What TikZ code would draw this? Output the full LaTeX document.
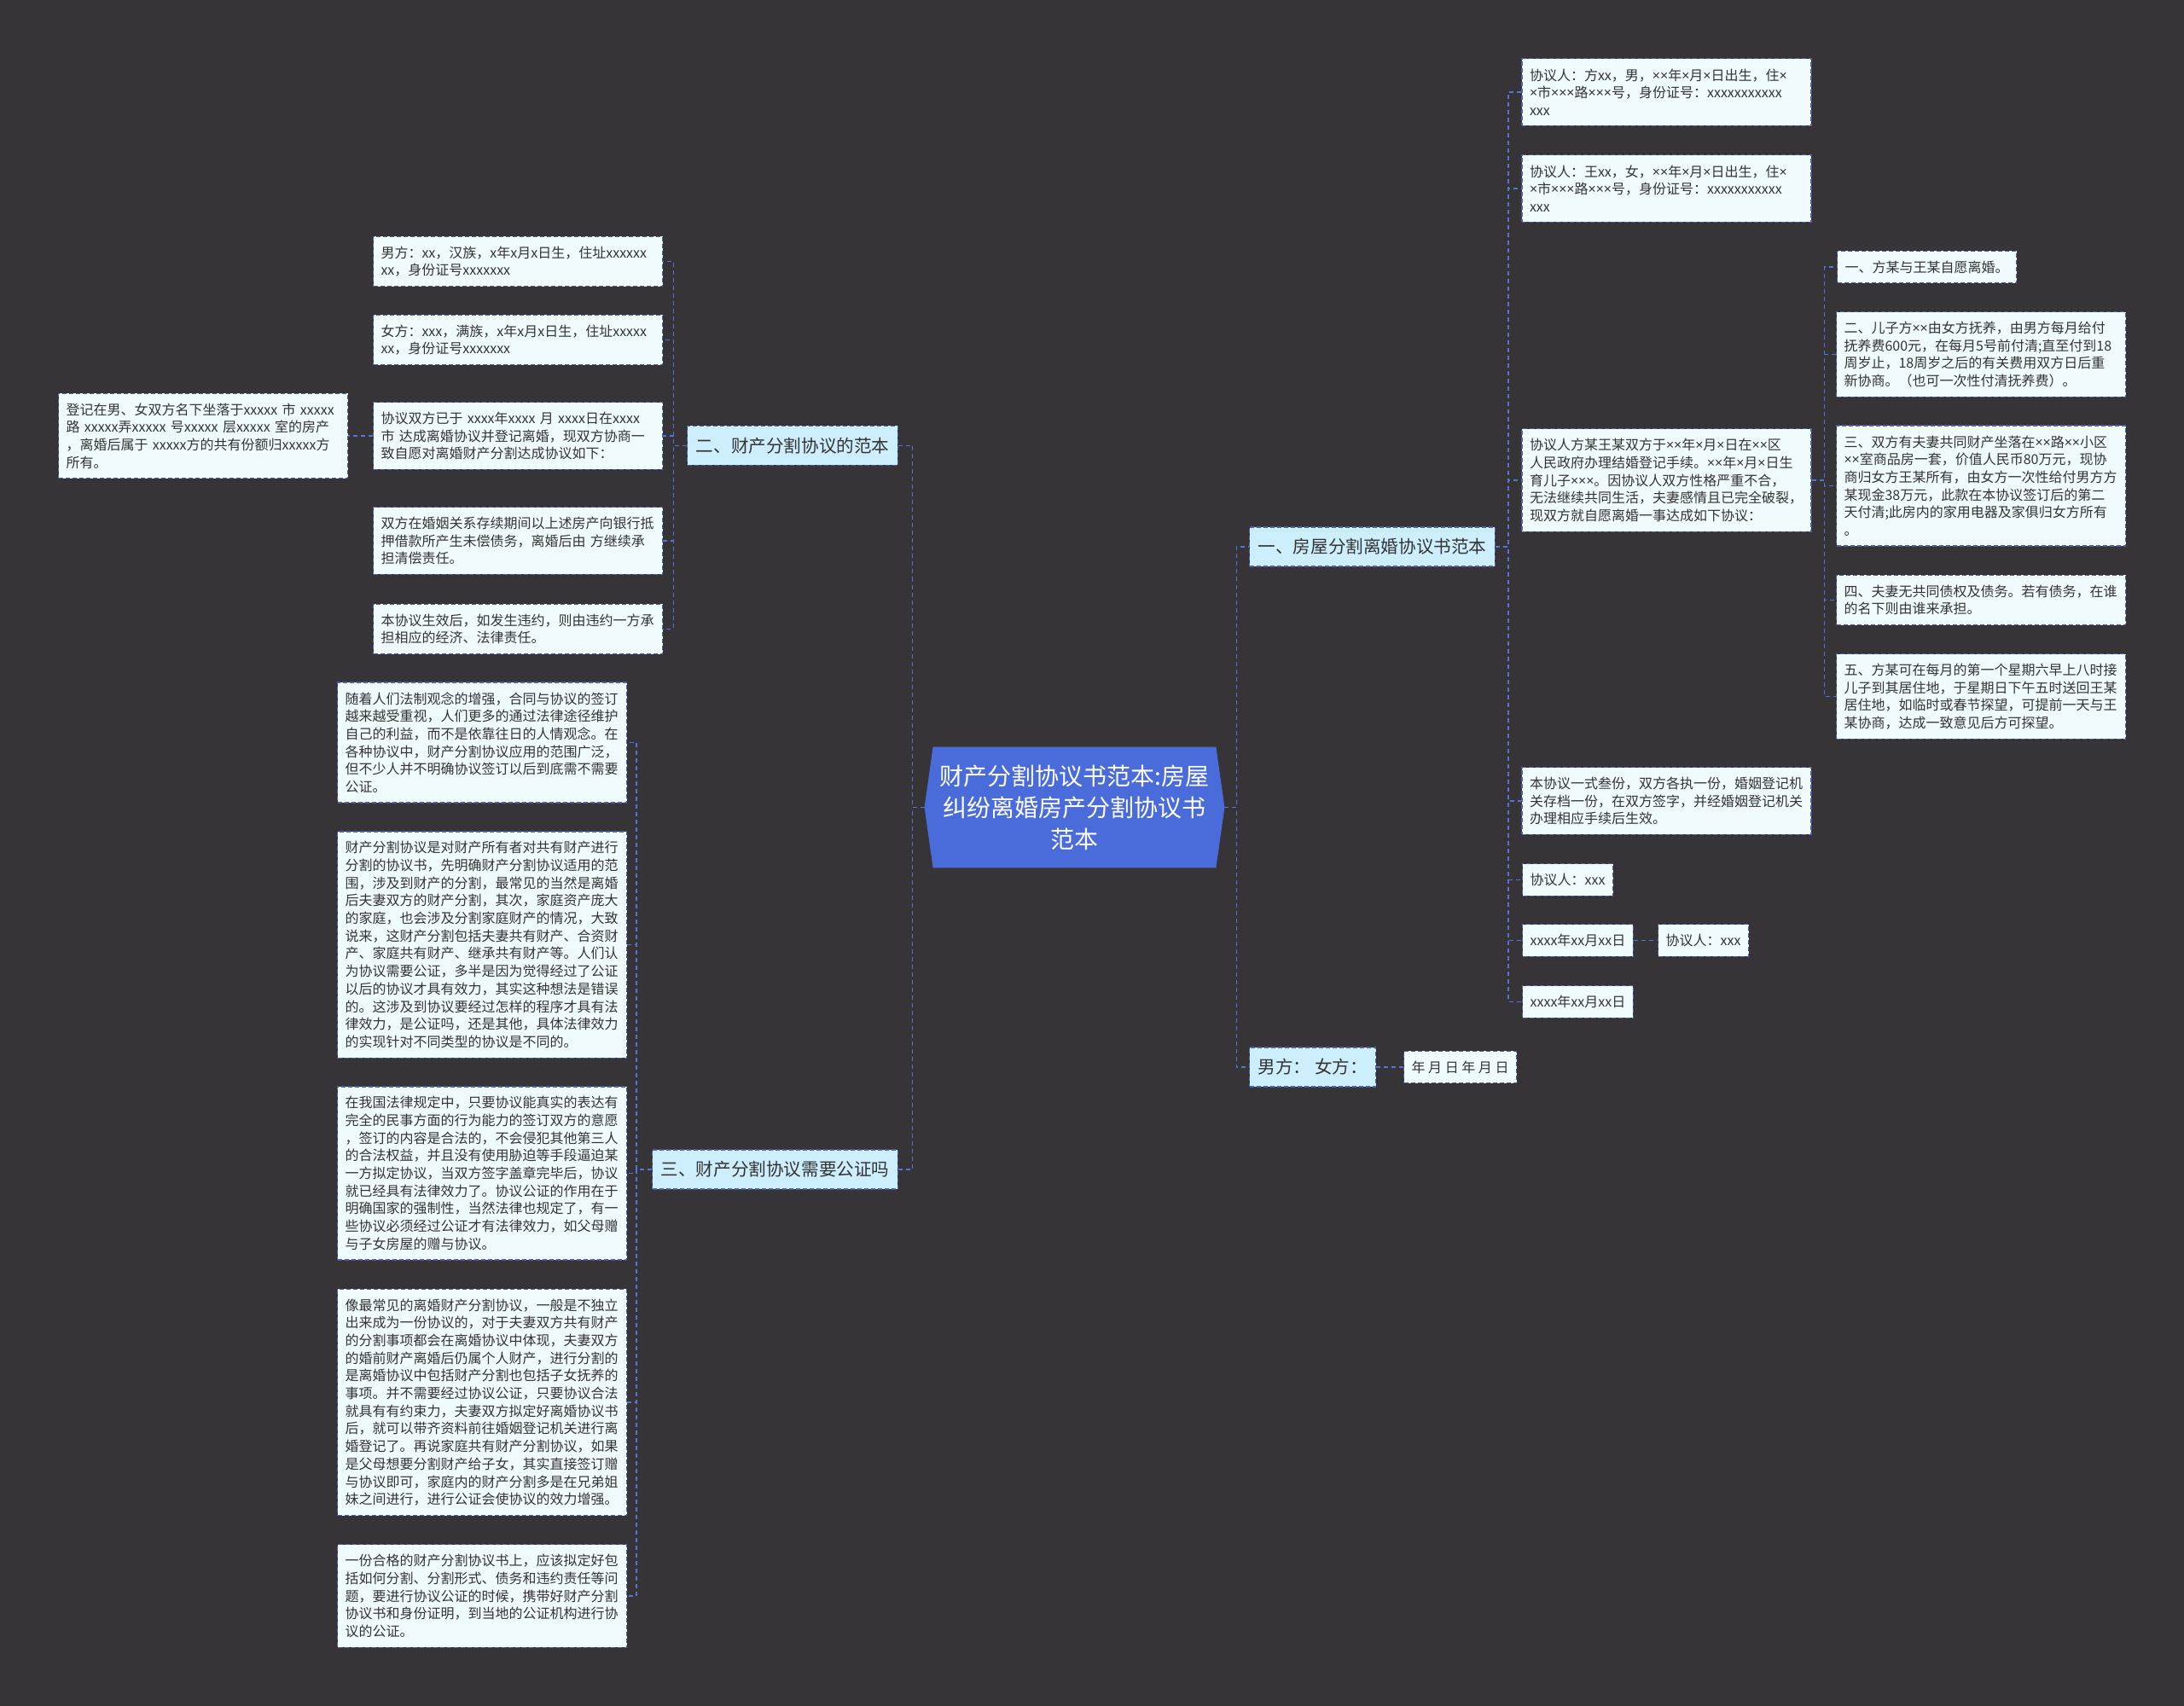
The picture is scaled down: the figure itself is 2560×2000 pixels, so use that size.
\documentclass[tikz,border=0pt]{standalone}
\usepackage{fontspec}
\setmainfont{Noto Sans CJK SC}
\newfontfamily\notosans{Noto Sans}
\newcommand\tms{{\notosans ×}}
\definecolor{bgcol}{HTML}{363436}
\definecolor{rootfill}{HTML}{4A6CDB}
\definecolor{brfill}{HTML}{CDEEFC}
\definecolor{leaffill}{HTML}{F0FBFE}
\definecolor{bordcol}{HTML}{4E5EA8}
\definecolor{conncol}{HTML}{5574D8}
\definecolor{txtcol}{HTML}{333333}
\pgfdeclarelayer{bg}
\pgfsetlayers{bg,main}
\tikzset{
  box/.style={draw=bordcol, line width=0.6pt, dash pattern=on 2.5pt off 1.5pt, text=txtcol, align=left, anchor=center},
  leaf/.style={box, fill=leaffill, font=\fontsize{8pt}{10.35pt}\selectfont, inner xsep=4.5pt, inner ysep=2pt, minimum height=18.75pt},
  wide/.style={text width=160.5pt},
  branch/.style={box, fill=brfill, font=\fontsize{10.3pt}{13pt}\selectfont, inner xsep=5pt, inner ysep=2pt, minimum height=23pt},
  conn/.style={draw=conncol, line width=0.7pt, dash pattern=on 2.5pt off 2pt},
}
\begin{document}
\begin{tikzpicture}[x=0.5pt,y=-0.5pt]
\useasboundingbox (0,0) rectangle (2560,2000);
\begin{pgfonlayer}{bg}
\fill[bgcol] (0,0) rectangle (2560,2000);
\end{pgfonlayer}

% root
\node[text=white, font=\fontsize{14pt}{18.5pt}\selectfont, align=center, minimum width=175.5pt, minimum height=70.5pt, inner sep=0pt] (root) at (1259.5,946.5) {财产分割协议书范本:房屋\\纠纷离婚房产分割协议书\\范本};
\begin{pgfonlayer}{bg}
\fill[rootfill] (root.west) -- ([xshift=5pt]root.north west) -- ([xshift=-5pt]root.north east) -- (root.east) -- ([xshift=-5pt]root.south east) -- ([xshift=5pt]root.south west) -- cycle;
\end{pgfonlayer}

% branches
\node[branch, anchor=west] (b1) at (1464,641) {一、房屋分割离婚协议书范本};
\node[branch, anchor=west] (b4) at (1464,1251) {男方：\ 女方：};
\node[branch, anchor=east] (b2) at (1053,522.5) {二、财产分割协议的范本};
\node[branch, anchor=east] (b3) at (1053,1371) {三、财产分割协议需要公证吗};

% right leaves
\node[leaf, wide, minimum height=39.45pt] (r1) at (1953.5,108) {协议人：方xx，男，\tms{}\tms{}年\tms{}月\tms{}日出生，住\tms{}\\\tms{}市\tms{}\tms{}\tms{}路\tms{}\tms{}\tms{}号，身份证号：xxxxxxxxxxx\\xxx};
\node[leaf, wide, minimum height=39.45pt] (r2) at (1953.5,221) {协议人：王xx，女，\tms{}\tms{}年\tms{}月\tms{}日出生，住\tms{}\\\tms{}市\tms{}\tms{}\tms{}路\tms{}\tms{}\tms{}号，身份证号：xxxxxxxxxxx\\xxx};
\node[leaf, wide, minimum height=60.15pt] (r3) at (1953.5,563) {协议人方某王某双方于\tms{}\tms{}年\tms{}月\tms{}日在\tms{}\tms{}区\\人民政府办理结婚登记手续。\tms{}\tms{}年\tms{}月\tms{}日生\\育儿子\tms{}\tms{}\tms{}。因协议人双方性格严重不合，\\无法继续共同生活，夫妻感情且已完全破裂，\\现双方就自愿离婚一事达成如下协议：};
\node[leaf, wide, minimum height=39.45pt] (r4) at (1953.5,939) {本协议一式叁份，双方各执一份，婚姻登记机\\关存档一份，在双方签字，并经婚姻登记机关\\办理相应手续后生效。};
\node[leaf, anchor=west] (r5) at (1784,1031.5) {协议人：xxx};
\node[leaf, anchor=west] (r6) at (1784,1102.5) {xxxx年xx月xx日};
\node[leaf, anchor=west] (r6b) at (1943,1102.5) {协议人：xxx};
\node[leaf, anchor=west] (r7) at (1784,1174.5) {xxxx年xx月xx日};
\node[leaf, anchor=west] (date) at (1645,1251) {年 月 日 年 月 日};

% second level right
\node[leaf, anchor=west] (s1) at (2153,313) {一、方某与王某自愿离婚。};
\node[leaf, wide, minimum height=49.8pt] (s2) at (2322,415.5) {二、儿子方\tms{}\tms{}由女方抚养，由男方每月给付\\抚养费600元，在每月5号前付清;直至付到18\\周岁止，18周岁之后的有关费用双方日后重\\新协商。（也可一次性付清抚养费）。};
\node[leaf, wide, minimum height=70.5pt] (s3) at (2322,569.5) {三、双方有夫妻共同财产坐落在\tms{}\tms{}路\tms{}\tms{}小区\\\tms{}\tms{}室商品房一套，价值人民币80万元，现协\\商归女方王某所有，由女方一次性给付男方方\\某现金38万元，此款在本协议签订后的第二\\天付清;此房内的家用电器及家俱归女方所有\\。};
\node[leaf, wide, minimum height=29.1pt] (s4) at (2322,703.5) {四、夫妻无共同债权及债务。若有债务，在谁\\的名下则由谁来承担。};
\node[leaf, wide, minimum height=49.8pt] (s5) at (2322,816.5) {五、方某可在每月的第一个星期六早上八时接\\儿子到其居住地，于星期日下午五时送回王某\\居住地，如临时或春节探望，可提前一天与王\\某协商，达成一致意见后方可探望。};

% left leaves of branch 2
\node[leaf, wide, minimum height=29.1pt] (l1) at (607,306.5) {男方：xx，汉族，x年x月x日生，住址xxxxxx\\xx，身份证号xxxxxxx};
\node[leaf, wide, minimum height=29.1pt] (l2) at (607,398.5) {女方：xxx，满族，x年x月x日生，住址xxxxx\\xx，身份证号xxxxxxx};
\node[leaf, wide, minimum height=39.45pt] (l3) at (607,511) {协议双方已于~xxxx年xxxx~月~xxxx日在xxxx\\市~达成离婚协议并登记离婚，现双方协商一\\致自愿对离婚财产分割达成协议如下：};
\node[leaf, wide, minimum height=39.45pt] (l4) at (607,634) {双方在婚姻关系存续期间以上述房产向银行抵\\押借款所产生未偿债务，离婚后由~方继续承\\担清偿责任。};
\node[leaf, wide, minimum height=29.1pt] (l5) at (607,737.5) {本协议生效后，如发生违约，则由违约一方承\\担相应的经济、法律责任。};
\node[leaf, wide, minimum height=49.8pt] (far) at (238,511) {登记在男、女双方名下坐落于xxxxx~市~xxxxx\\路~xxxxx弄xxxxx~号xxxxx~层xxxxx~室的房产\\，离婚后属于~xxxxx方的共有份额归xxxxx方\\所有。};

% left leaves of branch 3
\node[leaf, wide, minimum height=70.5pt] (m1) at (565,870.5) {随着人们法制观念的增强，合同与协议的签订\\越来越受重视，人们更多的通过法律途径维护\\自己的利益，而不是依靠往日的人情观念。在\\各种协议中，财产分割协议应用的范围广泛，\\但不少人并不明确协议签订以后到底需不需要\\公证。};
\node[leaf, wide, minimum height=132.6pt] (m2) at (565,1107.5) {财产分割协议是对财产所有者对共有财产进行\\分割的协议书，先明确财产分割协议适用的范\\围，涉及到财产的分割，最常见的当然是离婚\\后夫妻双方的财产分割，其次，家庭资产庞大\\的家庭，也会涉及分割家庭财产的情况，大致\\说来，这财产分割包括夫妻共有财产、合资财\\产、家庭共有财产、继承共有财产等。人们认\\为协议需要公证，多半是因为觉得经过了公证\\以后的协议才具有效力，其实这种想法是错误\\的。这涉及到协议要经过怎样的程序才具有法\\律效力，是公证吗，还是其他，具体法律效力\\的实现针对不同类型的协议是不同的。};
\node[leaf, wide, minimum height=101.55pt] (m3) at (565,1375.5) {在我国法律规定中，只要协议能真实的表达有\\完全的民事方面的行为能力的签订双方的意愿\\，签订的内容是合法的，不会侵犯其他第三人\\的合法权益，并且没有使用胁迫等手段逼迫某\\一方拟定协议，当双方签字盖章完毕后，协议\\就已经具有法律效力了。协议公证的作用在于\\明确国家的强制性，当然法律也规定了，有一\\些协议必须经过公证才有法律效力，如父母赠\\与子女房屋的赠与协议。};
\node[leaf, wide, minimum height=132.6pt] (m4) at (565,1644) {像最常见的离婚财产分割协议，一般是不独立\\出来成为一份协议的，对于夫妻双方共有财产\\的分割事项都会在离婚协议中体现，夫妻双方\\的婚前财产离婚后仍属个人财产，进行分割的\\是离婚协议中包括财产分割也包括子女抚养的\\事项。并不需要经过协议公证，只要协议合法\\就具有有约束力，夫妻双方拟定好离婚协议书\\后，就可以带齐资料前往婚姻登记机关进行离\\婚登记了。再说家庭共有财产分割协议，如果\\是父母想要分割财产给子女，其实直接签订赠\\与协议即可，家庭内的财产分割多是在兄弟姐\\妹之间进行，进行公证会使协议的效力增强。};
\node[leaf, wide, minimum height=60.15pt] (m5) at (565,1871) {一份合格的财产分割协议书上，应该拟定好包\\括如何分割、分割形式、债务和违约责任等问\\题，要进行协议公证的时候，携带好财产分割\\协议书和身份证明，到当地的公证机构进行协\\议的公证。};

% connectors
\draw[conn] (root.east) -- ++(14,0) |- (b1.west);
\draw[conn] (root.east) -- ++(14,0) |- (b4.west);
\draw[conn] (root.west) -- ++(-14,0) |- (b2.east);
\draw[conn] (root.west) -- ++(-14,0) |- (b3.east);
\foreach \n in {r1,r2,r3,r4,r5,r6,r7} \draw[conn] (b1.east) -- ++(15,0) |- (\n.west);
\draw[conn] (r6.east) -- (r6b.west);
\draw[conn] (b4.east) -- (date.west);
\foreach \n in {s1,s2,s3,s4,s5} \draw[conn] (r3.east) -- ++(15,0) |- (\n.west);
\foreach \n in {l1,l2,l3,l4,l5} \draw[conn] (b2.west) -- ++(-16,0) |- (\n.east);
\draw[conn] (l3.west) -- (far.east);
\foreach \n in {m1,m2,m3,m4,m5} \draw[conn] (b3.west) -- ++(-18,0) |- (\n.east);
\end{tikzpicture}
\end{document}
